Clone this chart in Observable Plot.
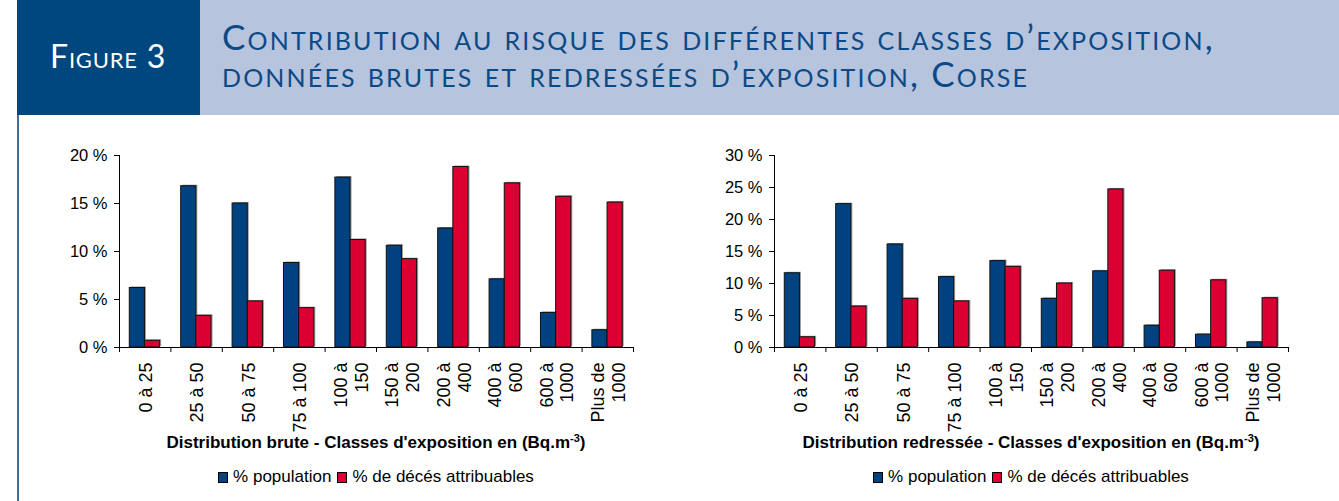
<!DOCTYPE html>
<html><head><meta charset="utf-8">
<script src="https://cdn.jsdelivr.net/npm/d3@7"></script>
<script src="https://cdn.jsdelivr.net/npm/@observablehq/plot@0.6"></script>
<style>
body{margin:0;width:1339px;height:501px;position:relative;overflow:hidden;background:#fff;font-family:"Liberation Sans",Arial,sans-serif;}
#box{position:absolute;left:17px;top:0;width:183px;height:115px;background:#00467f;}
#band{position:absolute;left:200px;top:0;width:1139px;height:115px;background:#b7c4de;}
#vline{position:absolute;left:17px;top:115px;width:2px;height:386px;background:#3f6ea5;}
#fig{position:absolute;left:50px;top:38px;color:#fff;font-family:Lato,sans-serif;font-variant:small-caps;font-size:32px;letter-spacing:0.8px;line-height:36px;white-space:nowrap;}
#title{position:absolute;left:222px;top:18px;color:#0b4a87;font-family:Lato,sans-serif;font-variant:small-caps;font-size:35px;letter-spacing:2.15px;line-height:37px;white-space:nowrap;}
.chart{position:absolute;top:140px;}
.xt{font-weight:bold;font-size:17px;line-height:20px;margin-top:3px;text-align:center;white-space:nowrap;color:#000;}
.xt sup{font-size:11px;line-height:0;vertical-align:6px;}
.leg{display:flex;justify-content:center;align-items:center;margin-top:14px;font-size:17px;line-height:20px;white-space:nowrap;color:#000;}
.sw{display:inline-block;width:8px;height:9px;border:1px solid #000;margin-right:5px;}
.lt{margin-right:6px;}
.lt:last-child{margin-right:0;}
</style></head>
<body>
<div id="box"></div><div id="band"></div><div id="vline"></div>
<div id="fig">Figure 3</div>
<div id="title">Contribution au risque des différentes classes d’exposition,<br>données brutes et redressées d’exposition, Corse</div>
<div id="left" class="chart" style="left:0px;width:660px;"></div>
<div id="right" class="chart" style="left:660px;width:679px;"></div>
<script>
const categories = ["0 à 25","25 à 50","50 à 75","75 à 100","100 à\n150","150 à\n200","200 à\n400","400 à\n600","600 à\n1000","Plus de\n1000"];
const brutePopulation = [6.2,16.8,15.0,8.8,17.7,10.6,12.4,7.1,3.6,1.8];
const bruteDeces = [0.7,3.3,4.8,4.1,11.2,9.2,18.8,17.1,15.7,15.1];
const redressePopulation = [11.6,22.4,16.1,11.0,13.5,7.6,11.9,3.4,2.0,0.8];
const redresseDeces = [1.6,6.4,7.6,7.2,12.6,10.0,24.7,12.0,10.5,7.7];
const bruteYTicks = [0,5,10,15,20];
const redresseYTicks = [0,5,10,15,20,25,30];
const seriesNames = ["% population","% de décés attribuables"];
const seriesColors = ["#00427f","#dc0032"];
const axisTitles = ["Distribution brute - Classes d'exposition en (Bq.m<sup>-3</sup>)","Distribution redressée - Classes d'exposition en (Bq.m<sup>-3</sup>)"];

function makeChart(el, pop, dec, yTicks, title, width, marginLeft, marginRight){
  const rows = categories.map((c,i)=>({i, c, pop: pop[i], dec: dec[i]}));
  const b0 = 0.2, b1 = 0.495, b2 = 0.79;
  const bar = (key, a, b, color) => [
    Plot.rectY(rows, {x1: d => d.i + a, x2: d => d.i + b, y1: 0, y2: key, fill: "#9a9a9a", dx: 1.5, dy: -1}),
    Plot.rectY(rows, {x1: d => d.i + a, x2: d => d.i + b, y1: 0, y2: key, fill: color, stroke: "#111", strokeWidth: 1})
  ];
  const plot = Plot.plot({
    width, height: 290, marginLeft, marginRight, marginTop: 15, marginBottom: 83,
    style: {fontFamily: "'Liberation Sans', Arial, sans-serif", fontSize: "16.5px", color: "#000", background: "transparent", overflow: "visible"},
    x: {domain: [0, categories.length], axis: null},
    y: {domain: [0, yTicks[yTicks.length-1]], axis: null},
    marks: [
      Plot.axisY({ticks: yTicks, tickFormat: d => d + " %", tickSize: 5, tickPadding: 7, label: null, fontSize: 16.5}),
      Plot.axisX({ticks: d3.range(0, categories.length + 1), tickFormat: () => "", tickSize: 5, label: null}),
      ...bar("pop", b0, b1, seriesColors[0]),
      ...bar("dec", b1, b2, seriesColors[1]),
      Plot.ruleX([0], {stroke: "#000"}),
      Plot.ruleY([0], {stroke: "#000"}),
      Plot.text(rows, {x: d => d.i + 0.5, text: "c", frameAnchor: "bottom", rotate: -90, textAnchor: "end", lineAnchor: "middle", dy: 15, fontSize: 18, lineHeight: 1.15, fill: "#000"})
    ]
  });
  el.appendChild(plot);
  const plotW = width - marginLeft - marginRight;
  const t = document.createElement("div");
  t.className = "xt";
  t.style.marginLeft = marginLeft + "px";
  t.style.width = plotW + "px";
  t.innerHTML = title;
  el.appendChild(t);
  const leg = document.createElement("div");
  leg.className = "leg";
  leg.style.marginLeft = marginLeft + "px";
  leg.style.width = plotW + "px";
  seriesNames.forEach((n, k) => {
    const s = document.createElement("span"); s.className = "sw"; s.style.background = seriesColors[k];
    const l = document.createElement("span"); l.className = "lt"; l.textContent = n;
    leg.appendChild(s); leg.appendChild(l);
  });
  el.appendChild(leg);
}
makeChart(document.getElementById("left"), brutePopulation, bruteDeces, bruteYTicks, axisTitles[0], 660, 119, 27);
makeChart(document.getElementById("right"), redressePopulation, redresseDeces, redresseYTicks, axisTitles[1], 679, 114, 51);
</script>
</body></html>
